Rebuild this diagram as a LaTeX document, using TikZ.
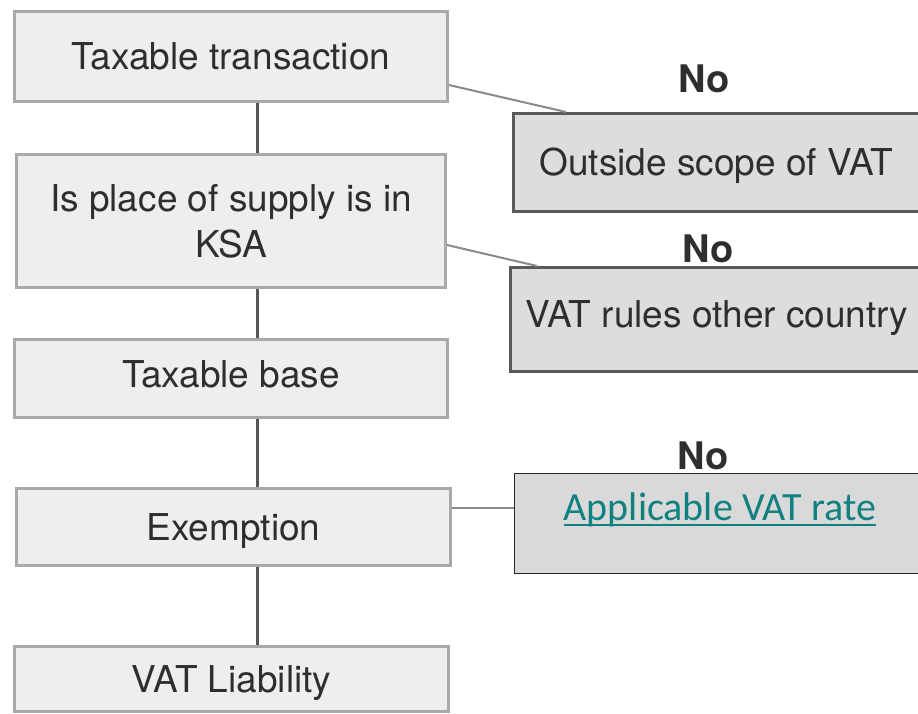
\documentclass[tikz,border=0pt]{standalone}
\usepackage{fontspec}
\setmainfont{TeX Gyre Heros}
\newfontfamily\calfont{Carlito}
\newsavebox\myulbox
\newcommand{\myuline}[1]{\sbox\myulbox{#1}\usebox\myulbox\llap{\rule[-6pt]{\wd\myulbox}{2pt}}}
\definecolor{lfill}{HTML}{EEEEEE}
\definecolor{lborder}{HTML}{A9A9A9}
\definecolor{txt}{HTML}{2E2E2E}
\definecolor{spine}{HTML}{555555}
\definecolor{rfill}{HTML}{DEDCDD}
\definecolor{rborder}{HTML}{5A5A5A}
\definecolor{link}{HTML}{8A8A8A}
\definecolor{r3fill}{HTML}{D9D9D9}
\definecolor{teal}{RGB}{17,128,128}
\tikzset{
  lbox/.style={draw=lborder, line width=3pt, fill=lfill, text=txt, inner sep=0pt,
    font=\fontsize{37}{46}\selectfont, align=center},
  onel/.style={text height=26.6pt, text depth=#1},
  rbox/.style={draw=rborder, line width=3pt, fill=rfill, text=txt, inner sep=0pt,
    font=\fontsize{37}{46}\selectfont},
  nolabel/.style={text=txt, font=\fontsize{38}{42}\selectfont\bfseries, inner sep=0pt},
  spineline/.style={draw=spine, line width=3pt},
  linkline/.style={draw=link, line width=2pt},
}
\begin{document}
\begin{tikzpicture}[x=1pt,y=-1pt]
\useasboundingbox (0,0) rectangle (918,714);
% left column
\node[lbox, onel=0pt, minimum width=433pt, minimum height=90pt] (t1) at (231,56.5) {Taxable transaction};
\node[lbox, minimum width=429pt, minimum height=133pt] (t2) at (231,221) {Is place of supply is in\\KSA};
\node[lbox, onel=8pt, minimum width=433pt, minimum height=78pt] (t3) at (231,378.5) {Taxable base};
\node[lbox, onel=0pt, minimum width=434pt, minimum height=77pt] (t4) at (233.5,527) {Exemption};
\node[lbox, onel=0pt, minimum width=434pt, minimum height=65pt] (t5) at (231.5,679) {VAT Liability};
% right column
\node[rbox, text height=26.6pt, text depth=0pt, minimum width=406pt, minimum height=98pt] (r1) at (716.5,162.5) {Outside scope of VAT};
\node[rbox, text height=26.6pt, text depth=11.6pt, minimum width=413pt, minimum height=104pt] (r2) at (717,319.5) {VAT rules other country};
\node[draw=black!85, line width=1pt, fill=r3fill, inner sep=0pt, text=teal,
  font=\calfont\fontsize{40}{46}\selectfont, text height=25.8pt, text depth=32.8pt,
  minimum width=411pt, minimum height=100pt] (r3) at (720,523.5)
  {\myuline{Applicable VAT rate}};
% No labels
\node[nolabel] (n1) at (704,79) {No};
\node[nolabel] (n2) at (708,249) {No};
\node[nolabel] (n3) at (703,456) {No};
% spine
\draw[spineline] ([xshift=26pt]t1.south) -- ([xshift=26pt]t1.south |- t2.north);
\draw[spineline] ([xshift=26pt]t2.south) -- ([xshift=26pt]t2.south |- t3.north);
\draw[spineline] ([xshift=26pt]t3.south) -- ([xshift=26pt]t3.south |- t4.north);
\draw[spineline] ([xshift=23.5pt]t4.south) -- ([xshift=23.5pt]t4.south |- t5.north);
% links
\draw[linkline] ([yshift=18pt]t1.south east) -- ([xshift=54pt]r1.north west);
\draw[linkline] ([yshift=44pt]t2.south east) -- ([xshift=28pt]r2.north west);
\draw[linkline] ([yshift=19pt]t4.east) -- ([yshift=19pt]t4.east -| r3.west);
\end{tikzpicture}
\end{document}
